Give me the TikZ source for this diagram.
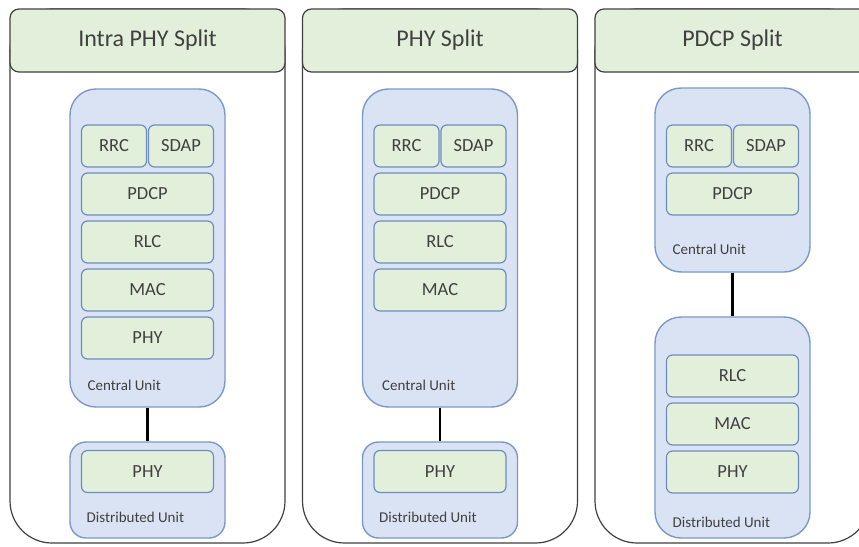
\documentclass[tikz,border=0pt]{standalone}
\usepackage{fontspec}
\setmainfont{Carlito}
\usepackage{tikz}
\usetikzlibrary{calc, arrows, positioning}

\definecolor{headgreen}{HTML}{E2EFDA}
\definecolor{boxgreen}{HTML}{E2EFDA}
\definecolor{unitblue}{HTML}{DAE3F3}
\definecolor{unitedge}{HTML}{7C98C8}
\definecolor{boxedge}{HTML}{6F8CBE}
\definecolor{frameedge}{HTML}{404040}
\definecolor{txt}{HTML}{404040}

\begin{document}
\begin{tikzpicture}
    [
        x=1pt, y=-1pt, node distance=48pt, auto, >=latex',
        panel/.style={draw=frameedge, line width=1.2pt, fill=white, rounded corners=42pt,
            minimum width=275pt, minimum height=534pt},
        head/.style={draw=frameedge, line width=1.2pt, fill=headgreen, rounded corners=9pt,
            minimum width=275pt, minimum height=63pt, inner sep=0pt,
            text=txt, font=\fontsize{24}{28}\selectfont},
        unit/.style={draw=unitedge, line width=1.4pt, fill=unitblue, rounded corners=26pt,
            minimum width=155pt, inner sep=0pt},
        smallunit/.style={unit, rounded corners=16pt},
        layer/.style={draw=boxedge, line width=1.2pt, fill=boxgreen, rounded corners=6pt,
            minimum width=132pt, minimum height=42pt, inner sep=0pt,
            text=txt, font=\fontsize{18.5}{22}\selectfont},
        halflayer/.style={layer, minimum width=65pt},
        caption/.style={anchor=west, inner sep=0pt, text=txt, font=\fontsize{15}{18}\selectfont}
    ]
    \tikzstyle{line} = [draw, line width=2.5pt, black]

    \useasboundingbox (0,0) rectangle (859,546);
    \clip (0,0) rectangle (859,546);

    % intra PHY split
    \begin{scope}[shift={(147.5,0)}]
        \node[panel] (frame) at (0,276) {};
        \node[head] (title) at (0,40.5) {Intra PHY Split};

        \node[unit, minimum height=318pt] (cu) at (0,248) {};
        \node[layer] (pdcp) at (0,194) {PDCP};
        \node[halflayer, above of=pdcp, xshift=-33.5pt] (rrc) {RRC};
        \node[halflayer, above of=pdcp, xshift=33.5pt] (sdap) {SDAP};
        \node[layer, below of=pdcp] (rlc) {RLC};
        \node[layer, below of=rlc] (mac) {MAC};
        \node[layer, below of=mac] (phy) {PHY};
        \node[caption] (cul) at (-60,385) {Central Unit};

        \node[smallunit, minimum height=96pt] (du) at (0,490) {};
        \node[layer] (duphy) at (0,471.5) {PHY};
        \node[caption] (dul) at (-61,517) {Distributed Unit};

        \path[line] (cu) -- (du);
    \end{scope}

    % PHY split
    \begin{scope}[shift={(440,0)}]
        \node[panel] (frame) at (0,276) {};
        \node[head] (title) at (0,40.5) {PHY Split};

        \node[unit, minimum height=318pt] (cu) at (0,248) {};
        \node[layer] (pdcp) at (0,194) {PDCP};
        \node[halflayer, above of=pdcp, xshift=-33.5pt] (rrc) {RRC};
        \node[halflayer, above of=pdcp, xshift=33.5pt] (sdap) {SDAP};
        \node[layer, below of=pdcp] (rlc) {RLC};
        \node[layer, below of=rlc] (mac) {MAC};
        \node[caption] (cul) at (-58,385) {Central Unit};

        \node[smallunit, minimum height=96pt] (du) at (0,490) {};
        \node[layer] (duphy) at (0,471.5) {PHY};
        \node[caption] (dul) at (-61,517) {Distributed Unit};

        \path[line] (cu) -- (du);
    \end{scope}

    % PDCP split
    \begin{scope}[shift={(732.5,0)}]
        \node[panel] (frame) at (0,276) {};
        \node[head] (title) at (0,40.5) {PDCP Split};

        \node[unit, minimum height=184pt] (cu) at (0,180) {};
        \node[layer] (pdcp) at (0,194) {PDCP};
        \node[halflayer, above of=pdcp, xshift=-33.5pt] (rrc) {RRC};
        \node[halflayer, above of=pdcp, xshift=33.5pt] (sdap) {SDAP};
        \node[caption] (cul) at (-60,249) {Central Unit};

        \node[unit, minimum height=221pt] (du) at (0,427.5) {};
        \node[layer] (rlc) at (0,376) {RLC};
        \node[layer, below of=rlc] (mac) {MAC};
        \node[layer, below of=mac] (phy) {PHY};
        \node[caption] (dul) at (-60,522) {Distributed Unit};

        \path[line] (cu) -- (du);
    \end{scope}

\end{tikzpicture}
\end{document}
